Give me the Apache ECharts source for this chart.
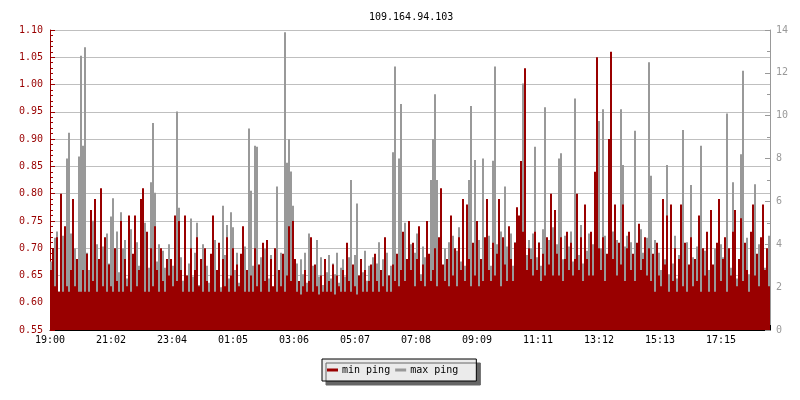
<!DOCTYPE html>
<html>
<head>
<meta charset="utf-8">
<script src="https://cdn.jsdelivr.net/npm/echarts@6/dist/echarts.min.js"></script>
<style>html,body{margin:0;padding:0;background:#fff}#c{width:800px;height:400px}</style>
</head>
<body>
<div id="c"></div>
<script>
// time labels (every 122 minutes from 19:00)
const tickLabels = ['19:00','21:02','23:04','01:05','03:06','05:07','07:08','09:09','11:11','13:12','15:13','17:15'];
const tickStepMin = 122;
const totalMin = 1440;
const stepMin = 4; // minutes per sample

// min ping (left axis)
const minPing = [
0.66,0.70,0.63,0.72,0.62,0.80,0.62,0.74,0.63,0.62,0.66,0.79,0.63,0.68,0.62,0.62,0.66,0.62,0.69,0.62,
0.77,0.64,0.79,0.62,0.68,0.81,0.63,0.72,0.62,0.67,0.63,0.62,0.70,0.64,0.62,0.75,0.62,0.68,0.63,0.76,
0.62,0.69,0.76,0.63,0.66,0.79,0.81,0.62,0.73,0.62,0.70,0.63,0.74,0.66,0.62,0.70,0.64,0.62,0.68,0.65,
0.68,0.63,0.76,0.64,0.75,0.66,0.62,0.76,0.65,0.62,0.70,0.62,0.66,0.72,0.63,0.68,0.62,0.70,0.64,0.62,
0.69,0.76,0.62,0.66,0.71,0.62,0.68,0.63,0.72,0.62,0.65,0.70,0.62,0.67,0.63,0.69,0.74,0.62,0.66,0.62,
0.65,0.62,0.70,0.63,0.67,0.62,0.71,0.64,0.715,0.62,0.68,0.63,0.70,0.62,0.66,0.63,0.69,0.62,0.65,0.74,
0.64,0.75,0.68,0.62,0.64,0.615,0.63,0.66,0.62,0.64,0.72,0.62,0.67,0.63,0.615,0.65,0.62,0.68,0.62,0.64,
0.62,0.67,0.615,0.65,0.63,0.62,0.66,0.62,0.71,0.64,0.62,0.67,0.63,0.615,0.65,0.68,0.62,0.66,0.62,0.64,
0.67,0.62,0.69,0.64,0.62,0.66,0.63,0.72,0.62,0.65,0.62,0.67,0.64,0.69,0.63,0.66,0.73,0.64,0.68,0.75,
0.66,0.71,0.63,0.68,0.74,0.64,0.67,0.63,0.75,0.69,0.64,0.66,0.70,0.63,0.72,0.81,0.67,0.64,0.68,0.63,
0.76,0.65,0.70,0.63,0.72,0.66,0.79,0.64,0.78,0.68,0.63,0.71,0.65,0.75,0.63,0.68,0.64,0.72,0.79,0.66,
0.64,0.71,0.65,0.69,0.79,0.63,0.72,0.67,0.64,0.74,0.68,0.64,0.71,0.775,0.76,0.86,0.73,1.03,0.66,0.70,
0.68,0.65,0.73,0.66,0.71,0.64,0.69,0.65,0.72,0.67,0.80,0.65,0.77,0.69,0.65,0.72,0.64,0.68,0.73,0.66,
0.71,0.65,0.68,0.80,0.66,0.72,0.64,0.78,0.68,0.65,0.73,0.65,0.84,1.05,0.70,0.66,0.72,0.64,0.69,0.90,
1.06,0.68,0.78,0.65,0.71,0.67,0.78,0.64,0.70,0.73,0.66,0.69,0.64,0.71,0.745,0.66,0.68,0.72,0.65,0.70,
0.64,0.69,0.62,0.71,0.65,0.63,0.79,0.67,0.76,0.62,0.78,0.64,0.70,0.62,0.68,0.78,0.63,0.71,0.62,0.67,
0.72,0.63,0.68,0.64,0.76,0.62,0.70,0.65,0.73,0.62,0.77,0.67,0.62,0.71,0.79,0.64,0.68,0.72,0.62,0.70,
0.65,0.73,0.77,0.63,0.68,0.755,0.64,0.71,0.66,0.62,0.73,0.78,0.65,0.69,0.63,0.72,0.78,0.66,0.70,0.63
];

// max ping (right axis)
const maxPing = [
3.2,2.9,4.3,4.6,1.8,5.2,4.4,3.0,8.0,9.2,4.5,2.2,3.8,2.5,8.1,12.8,8.6,13.2,3.6,2.8,
4.3,5.1,3.0,4.0,3.3,2.6,3.9,1.9,4.5,3.1,5.3,6.15,3.4,4.6,2.7,5.5,3.8,4.2,2.4,3.6,
4.7,2.2,3.5,4.1,3.0,4.4,2.1,5.0,3.6,2.9,6.9,9.66,6.4,3.2,4.0,2.5,3.7,2.9,3.3,4.0,
2.2,3.0,2.6,10.2,5.7,3.4,2.3,3.8,2.0,3.1,5.2,2.5,3.6,5.0,2.1,3.3,4.0,2.4,3.0,2.2,
3.4,2.6,4.2,2.3,3.1,2.0,5.8,3.5,4.9,2.4,5.5,4.8,2.8,3.6,2.2,3.2,2.5,3.9,2.1,9.4,
6.5,3.0,8.6,8.55,2.6,3.4,2.2,3.8,2.9,2.4,3.5,2.0,3.1,6.7,2.8,3.6,2.5,13.9,7.8,8.9,
7.4,5.8,2.4,3.1,2.0,3.3,2.6,3.6,2.2,4.5,2.8,3.0,2.3,4.2,2.5,3.4,2.1,3.0,2.7,3.5,
2.4,3.1,2.6,3.6,2.2,2.9,3.3,2.5,3.0,3.4,7.0,2.8,3.5,5.9,2.4,3.2,2.7,3.7,2.3,3.0,
2.6,3.4,2.2,3.1,4.1,2.5,3.3,2.8,3.6,2.4,3.0,8.3,12.3,3.3,8.0,10.55,3.4,5.0,3.0,4.2,
4.0,2.8,3.6,4.5,3.1,2.6,3.9,3.4,4.3,2.9,7.0,8.9,11.0,7.0,3.5,4.6,3.0,3.8,2.7,4.1,
3.3,4.4,2.9,3.7,4.8,3.2,4.0,3.0,4.5,7.0,10.45,3.6,7.93,3.1,4.2,2.9,8.0,3.8,3.2,4.4,
3.0,7.9,12.3,4.0,3.4,4.6,3.1,6.7,3.9,3.3,4.5,3.0,4.1,3.6,5.0,4.3,11.5,7.5,3.5,4.2,
3.8,4.5,8.55,3.4,4.1,3.0,4.7,10.4,3.6,4.2,3.2,4.8,3.5,4.0,8.0,8.25,3.3,4.4,3.0,3.9,
4.6,3.2,10.8,4.1,3.5,4.9,3.1,4.3,3.7,4.5,3.0,4.0,3.4,12.4,9.75,3.8,10.3,4.4,3.2,4.1,
3.6,4.6,3.1,4.2,3.5,10.3,7.7,3.9,4.4,3.0,4.1,3.4,9.3,4.0,3.2,4.7,3.6,2.9,4.3,12.5,
7.2,3.0,4.2,2.5,3.6,2.8,4.0,3.3,7.7,2.6,3.8,3.1,4.4,2.4,3.5,2.9,9.33,3.2,4.1,2.7,
6.77,3.4,2.6,3.9,3.0,8.6,2.5,3.7,4.2,2.8,3.3,2.3,3.8,3.1,2.7,4.0,3.4,2.6,10.1,3.5,
2.9,6.9,3.6,2.4,3.2,8.2,12.1,3.0,4.3,2.6,3.5,2.8,6.8,3.1,4.0,2.5,3.6,2.9,3.3,4.4
];

const FONT = 'DejaVu Sans Mono';
const RED = '#990000';
const GRAY = '#999999';

const toPairs = arr => arr.map((v, i) => [i * stepMin + stepMin / 2, v]);

const chart = echarts.init(document.getElementById('c'), null, {renderer: 'canvas'});
chart.setOption({
  animation: false,
  backgroundColor: '#ffffff',
  textStyle: {fontFamily: FONT},
  title: {
    text: '109.164.94.103',
    left: 364, top: 7,
    textStyle: {fontFamily: FONT, fontSize: 10, fontWeight: 'normal', color: '#000'}
  },
  grid: {left: 50, right: 30, top: 30, bottom: 70, containLabel: false},
  legend: {
    left: 322, top: 359,
    padding: [6, 18, 6, 5],
    itemGap: 5,
    itemWidth: 11, itemHeight: 3,
    icon: 'rect',
    backgroundColor: '#ebebeb',
    borderColor: '#000', borderWidth: 1,
    shadowColor: '#666666', shadowBlur: 0, shadowOffsetX: 4, shadowOffsetY: 4,
    selectedMode: false,
    textStyle: {fontFamily: FONT, fontSize: 10, color: '#000', padding: [0, 0, 0, -1]},
    data: ['min ping', 'max ping']
  },
  xAxis: {
    type: 'value', min: 0, max: totalMin, interval: tickStepMin,
    axisLine: {show: true, lineStyle: {color: '#000', width: 1}},
    axisTick: {show: true, inside: true, length: 5, lineStyle: {color: '#000'}},
    axisLabel: {
      show: true, margin: 5, color: '#000', fontFamily: FONT, fontSize: 10,
      formatter: v => { const k = Math.round(v / tickStepMin); return (Math.abs(k * tickStepMin - v) < 1e-6 && tickLabels[k]) ? tickLabels[k] : ''; }
    },
    splitLine: {show: false}
  },
  yAxis: [
    {
      type: 'value', position: 'left', min: 0.55, max: 1.10, interval: 0.05,
      axisLine: {show: true, lineStyle: {color: RED}},
      axisTick: {show: true, inside: true, length: 5, lineStyle: {color: RED}},
      minorTick: {show: true, splitNumber: 5, length: 3, lineStyle: {color: RED}},
      axisLabel: {color: RED, fontFamily: FONT, fontSize: 10, margin: 7, formatter: v => v.toFixed(2)},
      splitLine: {show: true, lineStyle: {color: '#bfbfbf', width: 1}}
    },
    {
      type: 'value', position: 'right', min: 0, max: 14, interval: 2,
      axisLine: {show: true, lineStyle: {color: GRAY}},
      axisTick: {show: true, inside: true, length: 5, lineStyle: {color: GRAY}},
      minorTick: {show: true, splitNumber: 2, length: 3, lineStyle: {color: GRAY}},
      axisLabel: {color: GRAY, fontFamily: FONT, fontSize: 10, margin: 6},
      splitLine: {show: false}
    }
  ],
  series: [
    {
      name: 'max ping', type: 'bar', yAxisIndex: 1,
      data: toPairs(maxPing), barWidth: 2, barGap: '-100%',
      itemStyle: {color: GRAY}, silent: true
    },
    {
      name: 'min ping', type: 'bar', yAxisIndex: 0,
      data: toPairs(minPing), barWidth: 2, barGap: '-100%',
      itemStyle: {color: RED}, silent: true
    }
  ]
});
</script>
</body>
</html>
